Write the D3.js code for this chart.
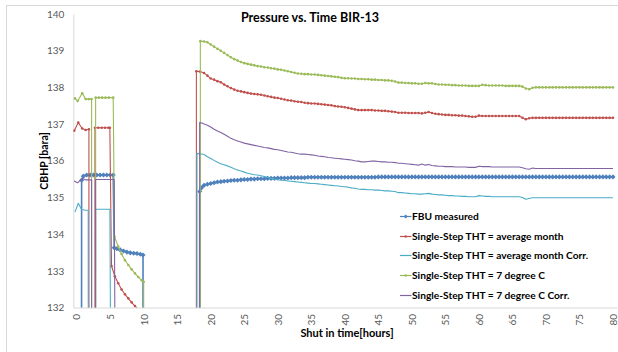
<!DOCTYPE html>
<html>
<head>
<meta charset="utf-8">
<script src="https://cdn.jsdelivr.net/npm/d3@7"></script>
<style>
  html, body { margin: 0; padding: 0; background: #fff; }
  svg { display: block; font-family: Lato, "Open Sans", sans-serif; }
</style>
</head>
<body>
<svg id="chart" width="618" height="352"></svg>
<script>
// ---- axis ticks ----
const xTicks = [0, 5, 10, 15, 20, 25, 30, 35, 40, 45, 50, 55, 60, 65, 70, 75, 80];
const yTicks = [132, 133, 134, 135, 136, 137, 138, 139, 140];

// ---- series ----
const seriesNames = [
  "FBU measured",
  "Single-Step THT = average month",
  "Single-Step THT = average month Corr.",
  "Single-Step THT = 7 degree C",
  "Single-Step THT = 7 degree C Corr."
];
const seriesColors = ["#4F81BD", "#C0504D", "#4BACC6", "#9BBB59", "#8064A2"];

// first flow/shut-in period: [hours, bara]; blank readings are plotted as 0
const fbuEarly = [[0.45,0],[0.74,135.47],[1.0,135.58],[1.5,135.61],[2.0,135.61],[2.5,135.61],[3.0,135.61],[3.5,135.61],[4.0,135.61],[4.5,135.61],[5.0,135.61],[5.45,135.61],[5.6,133.63],[6.0,133.60],[6.5,133.57],[7.0,133.54],[7.5,133.51],[8.0,133.49],[8.5,133.48],[9.0,133.47],[9.5,133.45],[9.9,133.43],[10.0,0],[18.33,0],[18.35,135.16],[18.6,135.26]];
const avgMonthEarly = [[-0.36,136.82],[0.24,137.04],[0.83,136.88],[1.34,136.84],[1.83,136.86],[1.85,0],[2.71,0],[2.73,136.90],[3.23,136.90],[3.73,136.90],[4.23,136.90],[4.73,136.90],[4.95,136.90],[5.2,133.13],[5.7,132.85],[6.2,132.66],[6.7,132.49],[7.2,132.36],[7.7,132.25],[8.2,132.14],[8.7,132.04],[9.2,131.95],[9.7,131.87],[9.75,0],[17.84,0],[17.86,138.44],[18.4,138.43]];
const avgMonthCorrEarly = [[-0.25,134.60],[0.24,134.84],[0.74,134.67],[1.3,134.65],[1.73,134.65],[1.8,0],[2.8,0],[2.83,134.68],[3.3,134.68],[3.8,134.68],[4.3,134.68],[4.96,134.68],[5.06,130.93],[6.2,130.46],[7.7,130.05],[9.7,129.67],[9.75,0],[17.93,0],[17.95,136.20],[18.5,136.19]];
const sevenDegEarly = [[-0.25,137.70],[0.15,137.63],[0.83,137.84],[1.34,137.68],[1.8,137.68],[2.23,137.68],[2.28,0],[2.8,0],[2.83,137.72],[3.3,137.72],[3.8,137.72],[4.3,137.72],[4.8,137.72],[5.45,137.72],[5.65,133.93],[6.2,133.66],[6.7,133.46],[7.2,133.29],[7.7,133.16],[8.2,133.04],[8.7,132.93],[9.2,132.83],[9.7,132.74],[10.0,132.70],[10.15,0],[18.43,0],[18.45,139.26]];
const sevenDegCorrEarly = [[-0.4,135.45],[0.15,135.40],[0.8,135.52],[1.3,135.48],[2.23,135.48],[2.28,0],[2.8,0],[2.83,135.49],[5.6,135.49],[5.7,131.70],[6.2,131.46],[7.2,131.10],[8.2,130.85],[9.7,130.55],[10.15,0],[18.33,0],[18.35,137.04],[18.7,137.03]];

// second shut-in: readings every half hour
const lateHours = [
  19,19.5,20,20.5,21,21.5,22,22.5,23,23.5,
  24,24.5,25,25.5,26,26.5,27,27.5,28,28.5,
  29,29.5,30,30.5,31,31.5,32,32.5,33,33.5,
  34,34.5,35,35.5,36,36.5,37,37.5,38,38.5,
  39,39.5,40,40.5,41,41.5,42,42.5,43,43.5,
  44,44.5,45,45.5,46,46.5,47,47.5,48,48.5,
  49,49.5,50,50.5,51,51.5,52,52.5,53,53.5,
  54,54.5,55,55.5,56,56.5,57,57.5,58,58.5,
  59,59.5,60,60.5,61,61.5,62,62.5,63,63.5,
  64,64.5,65,65.5,66,66.5,67,67.5,68,68.5,
  69,69.5,70,70.5,71,71.5,72,72.5,73,73.5,
  74,74.5,75,75.5,76,76.5,77,77.5,78,78.5,
  79,79.5,80
];
const fbuLate = [
  135.33,135.36,135.38,135.40,135.42,135.43,135.44,135.45,135.46,135.47,
  135.47,135.48,135.49,135.49,135.50,135.50,135.51,135.51,135.51,135.52,
  135.52,135.52,135.53,135.53,135.53,135.53,135.54,135.54,135.54,135.54,
  135.54,135.55,135.55,135.55,135.55,135.55,135.55,135.55,135.55,135.55,
  135.55,135.55,135.55,135.55,135.55,135.55,135.55,135.55,135.55,135.55,
  135.55,135.55,135.56,135.56,135.56,135.56,135.56,135.56,135.56,135.56,
  135.56,135.56,135.56,135.56,135.56,135.56,135.56,135.56,135.56,135.56,
  135.56,135.56,135.56,135.56,135.56,135.56,135.56,135.56,135.56,135.56,
  135.56,135.56,135.56,135.56,135.56,135.56,135.56,135.56,135.56,135.56,
  135.56,135.56,135.56,135.56,135.56,135.56,135.56,135.56,135.56,135.56,
  135.56,135.56,135.56,135.56,135.56,135.56,135.56,135.56,135.56,135.56,
  135.56,135.56,135.56,135.56,135.56,135.56,135.56,135.56,135.56,135.56,
  135.56,135.56,135.56
];
const avgMonthLate = [
  138.39,138.32,138.24,138.21,138.17,138.14,138.08,138.03,137.98,137.94,
  137.91,137.89,137.87,137.85,137.83,137.82,137.81,137.80,137.78,137.76,
  137.74,137.72,137.71,137.69,137.67,137.65,137.64,137.62,137.61,137.60,
  137.58,137.57,137.56,137.56,137.55,137.54,137.53,137.52,137.51,137.49,
  137.48,137.47,137.46,137.44,137.42,137.40,137.38,137.38,137.38,137.38,
  137.38,137.37,137.37,137.36,137.36,137.35,137.34,137.33,137.31,137.31,
  137.31,137.30,137.30,137.30,137.30,137.29,137.31,137.33,137.30,137.28,
  137.27,137.26,137.25,137.25,137.24,137.24,137.23,137.23,137.22,137.21,
  137.20,137.20,137.23,137.22,137.22,137.22,137.22,137.22,137.22,137.22,
  137.22,137.22,137.22,137.22,137.22,137.17,137.13,137.16,137.17,137.17,
  137.17,137.17,137.17,137.17,137.17,137.17,137.17,137.17,137.17,137.17,
  137.17,137.17,137.17,137.17,137.17,137.17,137.17,137.17,137.17,137.17,
  137.17,137.17,137.17
];
const avgMonthCorrLate = [
  136.17,136.11,136.06,136.01,135.96,135.92,135.89,135.86,135.82,135.78,
  135.75,135.72,135.69,135.66,135.64,135.62,135.61,135.59,135.57,135.55,
  135.52,135.50,135.48,135.47,135.46,135.45,135.44,135.43,135.42,135.41,
  135.40,135.39,135.38,135.38,135.37,135.36,135.35,135.34,135.33,135.32,
  135.31,135.30,135.29,135.28,135.26,135.25,135.23,135.22,135.22,135.21,
  135.21,135.20,135.20,135.19,135.18,135.18,135.17,135.16,135.13,135.13,
  135.12,135.11,135.10,135.10,135.09,135.09,135.10,135.11,135.09,135.08,
  135.07,135.07,135.06,135.05,135.05,135.04,135.04,135.03,135.03,135.02,
  135.02,135.02,135.05,135.04,135.03,135.03,135.02,135.02,135.02,135.02,
  135.02,135.02,135.02,135.02,135.02,135.00,134.95,134.97,134.99,134.99,
  134.99,134.99,134.99,134.99,134.99,134.99,134.99,134.99,134.99,134.99,
  134.99,134.99,134.99,134.99,134.99,134.99,134.99,134.99,134.99,134.99,
  134.99,134.99,134.99
];
const sevenDegLate = [
  139.25,139.23,139.17,139.11,139.05,139.00,138.94,138.88,138.82,138.77,
  138.73,138.69,138.66,138.64,138.62,138.60,138.58,138.57,138.55,138.54,
  138.52,138.51,138.49,138.48,138.46,138.44,138.42,138.40,138.38,138.37,
  138.36,138.36,138.35,138.35,138.34,138.33,138.32,138.31,138.30,138.29,
  138.28,138.26,138.25,138.25,138.24,138.24,138.23,138.23,138.22,138.22,
  138.21,138.21,138.20,138.20,138.19,138.19,138.18,138.16,138.13,138.13,
  138.12,138.12,138.11,138.11,138.10,138.10,138.12,138.11,138.11,138.09,
  138.08,138.08,138.07,138.07,138.06,138.06,138.05,138.05,138.05,138.04,
  138.04,138.04,138.04,138.07,138.06,138.05,138.05,138.05,138.05,138.05,
  138.04,138.04,138.04,138.04,138.04,138.02,137.97,137.95,137.99,138.00,
  138.00,138.00,138.00,138.00,138.00,138.00,138.00,138.00,138.00,138.00,
  138.00,138.00,138.00,138.00,138.00,138.00,138.00,138.00,138.00,138.00,
  138.00,138.00,138.00
];
const sevenDegCorrLate = [
  137.00,136.97,136.92,136.86,136.81,136.77,136.72,136.67,136.61,136.57,
  136.54,136.51,136.48,136.46,136.44,136.42,136.40,136.38,136.36,136.35,
  136.33,136.31,136.30,136.28,136.26,136.24,136.23,136.21,136.19,136.18,
  136.18,136.17,136.16,136.15,136.13,136.12,136.11,136.09,136.08,136.07,
  136.06,136.05,136.04,136.03,136.02,136.00,135.99,135.97,135.97,135.98,
  135.99,135.99,135.98,135.97,135.97,135.96,135.96,135.95,135.93,135.93,
  135.92,135.91,135.90,135.89,135.88,135.91,135.88,135.90,135.87,135.86,
  135.85,135.85,135.84,135.84,135.84,135.83,135.83,135.83,135.83,135.82,
  135.82,135.82,135.85,135.84,135.84,135.84,135.83,135.83,135.83,135.83,
  135.83,135.83,135.83,135.83,135.83,135.81,135.78,135.77,135.80,135.79,
  135.79,135.79,135.79,135.79,135.79,135.79,135.79,135.79,135.79,135.79,
  135.79,135.79,135.79,135.79,135.79,135.79,135.79,135.79,135.79,135.79,
  135.79,135.79,135.79
];

// ---- build series ----
function joinPeriods(early, late) {
  return early.concat(lateHours.map((h, i) => [h, late[i]]));
}
const series = [
  { name: seriesNames[0], color: seriesColors[0], width: 1.6, marker: "diamond", data: joinPeriods(fbuEarly, fbuLate) },
  { name: seriesNames[1], color: seriesColors[1], width: 1.1, marker: "dot",     data: joinPeriods(avgMonthEarly, avgMonthLate) },
  { name: seriesNames[2], color: seriesColors[2], width: 1.1, marker: null,      data: joinPeriods(avgMonthCorrEarly, avgMonthCorrLate) },
  { name: seriesNames[3], color: seriesColors[3], width: 1.1, marker: "dot",     data: joinPeriods(sevenDegEarly, sevenDegLate) },
  { name: seriesNames[4], color: seriesColors[4], width: 1.1, marker: null,      data: joinPeriods(sevenDegCorrEarly, sevenDegCorrLate) }
];

// ---- layout ----
const svg = d3.select("#chart");
const plot = { left: 73.3, right: 617, top: 14, bottom: 307.5 };

const x = d3.scaleLinear().domain([-0.5, 80.6]).range([plot.left, plot.right]);
const y = d3.scaleLinear().domain([132, 140]).range([plot.bottom, plot.top]);

// chart frame
svg.append("rect")
  .attr("x", 6.5).attr("y", 5.5).attr("width", 700).attr("height", 400)
  .attr("fill", "#fff").attr("stroke", "#d9d9d9").attr("stroke-width", 1);

// title
svg.append("text")
  .attr("x", 310).attr("y", 21.5)
  .attr("text-anchor", "middle")
  .style("font-size", "12.5px").style("font-weight", "bold").style("fill", "#000")
  .text("Pressure vs. Time BIR-13");

// y axis
const yAxis = svg.append("g")
  .attr("transform", `translate(${plot.left},0)`)
  .call(d3.axisLeft(y).tickValues(yTicks).tickSize(0).tickSizeOuter(0).tickPadding(9).tickFormat(d3.format("d")));
yAxis.select(".domain").attr("stroke", "#d9d9d9");
yAxis.selectAll("text").style("font-size", "10px").style("fill", "#595959").style("font-family", "Lato, sans-serif");

// x axis
const xAxis = svg.append("g")
  .attr("transform", `translate(0,${plot.bottom})`)
  .call(d3.axisBottom(x).tickValues(xTicks).tickSize(0).tickSizeOuter(0).tickFormat(d3.format("d")));
xAxis.select(".domain").attr("stroke", "#d9d9d9");
xAxis.selectAll("text")
  .attr("y", 0).attr("dy", "0.33em").attr("x", -6.5)
  .attr("transform", "rotate(-90)")
  .style("text-anchor", "end")
  .style("font-size", "10px").style("fill", "#595959").style("font-family", "Lato, sans-serif");

// axis titles
svg.append("text")
  .attr("transform", "translate(47.5,161) rotate(-90)")
  .attr("text-anchor", "middle")
  .style("font-size", "10.5px").style("font-weight", "bold").style("fill", "#000")
  .text("CBHP [bara]");
svg.append("text")
  .attr("x", 347).attr("y", 337)
  .attr("text-anchor", "middle")
  .style("font-size", "11px").style("font-weight", "bold").style("fill", "#000")
  .text("Shut in time[hours]");

// plot clip
svg.append("clipPath").attr("id", "plot-clip")
  .append("rect")
  .attr("x", plot.left).attr("y", plot.top)
  .attr("width", 618 - plot.left).attr("height", plot.bottom - plot.top);

const lines = svg.append("g").attr("clip-path", "url(#plot-clip)");
const line = d3.line().x(d => x(d[0])).y(d => y(d[1]));
const diamond = d3.symbol(d3.symbolSquare, 13);

series.forEach(s => {
  const g = lines.append("g");
  g.append("path")
    .datum(s.data)
    .attr("d", line)
    .attr("fill", "none")
    .attr("stroke", s.color)
    .attr("stroke-width", s.width)
    .attr("stroke-linejoin", "round");
  if (s.marker === "diamond") {
    g.selectAll("path.mk").data(s.data).join("path")
      .attr("class", "mk")
      .attr("d", diamond)
      .attr("transform", d => `translate(${x(d[0])},${y(d[1])}) rotate(45)`)
      .attr("fill", s.color);
  } else if (s.marker === "dot") {
    g.selectAll("circle").data(s.data).join("circle")
      .attr("cx", d => x(d[0])).attr("cy", d => y(d[1]))
      .attr("r", 1.3)
      .attr("fill", s.color);
  }
});

// legend
const legend = svg.append("g");
series.forEach((s, i) => {
  const ly = Math.round(216 + i * 19.7) + 0.5;
  const item = legend.append("g").attr("transform", `translate(0,${ly})`);
  item.append("line")
    .attr("x1", 400).attr("x2", 411.5).attr("y1", 0).attr("y2", 0)
    .attr("stroke", s.color).attr("stroke-width", 1.2);
  if (s.marker === "diamond") {
    item.append("path").attr("d", d3.symbol(d3.symbolSquare, 8))
      .attr("transform", "translate(405.7,0) rotate(45)").attr("fill", s.color);
  } else if (s.marker === "dot") {
    item.append("circle").attr("cx", 405.7).attr("cy", 0).attr("r", 1.2).attr("fill", s.color);
  }
  item.append("text")
    .attr("x", 412).attr("y", 0).attr("dy", "0.35em")
    .style("font-size", "10.2px").style("font-weight", "bold").style("fill", "#000")
    .text(s.name);
});
</script>
</body>
</html>
